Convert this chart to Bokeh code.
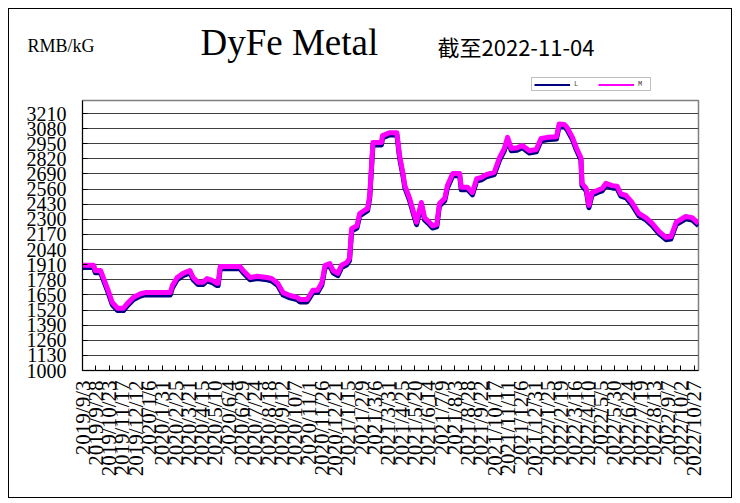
import pandas as pd
from bokeh.plotting import figure
from bokeh.layouts import column
from bokeh.models import FixedTicker, Label, Legend, LegendItem, ColumnDataSource, Range1d
from bokeh.embed import file_html
from bokeh.resources import INLINE

# ---- data ----
dates = [
    "2019-09-03", "2019-09-24", "2019-09-27", "2019-10-07", "2019-10-20", "2019-10-29",
    "2019-11-08", "2019-11-19", "2019-11-26", "2019-12-08", "2019-12-21", "2019-12-30",
    "2020-02-15", "2020-02-19", "2020-02-28", "2020-03-10", "2020-03-23", "2020-03-29",
    "2020-04-07", "2020-04-17", "2020-04-24", "2020-05-04", "2020-05-13", "2020-05-15",
    "2020-05-19", "2020-06-25", "2020-07-01", "2020-07-14", "2020-07-27", "2020-08-15",
    "2020-08-24", "2020-09-04", "2020-09-14", "2020-09-27", "2020-10-10", "2020-10-16",
    "2020-10-29", "2020-11-03", "2020-11-09", "2020-11-18", "2020-11-26", "2020-12-02",
    "2020-12-11", "2020-12-17", "2020-12-26", "2021-01-02", "2021-01-12", "2021-01-17",
    "2021-01-21", "2021-01-31", "2021-02-05", "2021-02-20", "2021-02-24", "2021-03-02",
    "2021-03-18", "2021-03-20", "2021-04-02", "2021-04-16", "2021-04-21", "2021-04-27",
    "2021-05-01", "2021-05-10", "2021-05-19", "2021-05-23", "2021-06-01", "2021-06-07",
    "2021-06-16", "2021-06-22", "2021-06-30", "2021-07-05", "2021-07-15", "2021-07-20",
    "2021-07-30", "2021-08-12", "2021-08-15", "2021-08-27", "2021-09-05", "2021-09-13",
    "2021-09-22", "2021-10-01", "2021-10-16", "2021-10-26", "2021-11-04", "2021-11-10",
    "2021-11-17", "2021-11-28", "2021-12-08", "2021-12-21", "2022-01-03", "2022-01-12",
    "2022-01-24", "2022-02-10", "2022-02-15", "2022-02-25", "2022-03-02", "2022-03-12",
    "2022-03-19", "2022-03-28", "2022-03-30", "2022-04-07", "2022-04-12", "2022-04-18",
    "2022-05-01", "2022-05-07", "2022-05-14", "2022-05-26", "2022-06-04", "2022-06-11",
    "2022-06-21", "2022-07-02", "2022-07-15", "2022-07-28", "2022-08-09", "2022-08-22",
    "2022-09-04", "2022-09-13", "2022-09-23", "2022-10-04", "2022-10-11", "2022-10-23",
    "2022-11-04",
]

m_vals = [
    1905, 1905, 1860, 1860, 1705, 1585,
    1535, 1535, 1575, 1630, 1660, 1670,
    1670, 1730, 1800, 1835, 1860, 1800,
    1760, 1760, 1790, 1775, 1750, 1750,
    1895, 1895, 1860, 1800, 1810, 1800,
    1790, 1750, 1670, 1645, 1630, 1610,
    1610, 1645, 1690, 1690, 1755, 1905,
    1920, 1860, 1835, 1905, 1930, 1965,
    2220, 2245, 2350, 2395, 2505, 2960,
    2960, 3020, 3045, 3045, 2850, 2705,
    2590, 2480, 2335, 2275, 2445, 2315,
    2275, 2245, 2255, 2435, 2480, 2590,
    2695, 2695, 2575, 2575, 2530, 2650,
    2660, 2685, 2705, 2830, 2910, 3005,
    2910, 2915, 2935, 2890, 2900, 2995,
    3005, 3010, 3120, 3115, 3090, 3005,
    2920, 2830, 2610, 2565, 2420, 2530,
    2555, 2565, 2610, 2590, 2585, 2520,
    2505, 2445, 2350, 2315, 2265, 2195,
    2145, 2150, 2275, 2305, 2325, 2315,
    2265,
]

l_vals = [
    1885, 1885, 1840, 1840, 1685, 1565,
    1515, 1515, 1555, 1610, 1640, 1650,
    1650, 1710, 1780, 1815, 1840, 1780,
    1740, 1740, 1770, 1755, 1730, 1730,
    1875, 1875, 1840, 1780, 1790, 1780,
    1770, 1730, 1650, 1625, 1610, 1590,
    1590, 1625, 1670, 1670, 1735, 1885,
    1900, 1840, 1815, 1885, 1910, 1945,
    2200, 2225, 2330, 2375, 2485, 2940,
    2940, 3000, 3025, 3025, 2830, 2685,
    2570, 2460, 2315, 2255, 2425, 2295,
    2255, 2225, 2235, 2415, 2460, 2570,
    2675, 2675, 2555, 2555, 2510, 2630,
    2640, 2665, 2685, 2810, 2890, 2985,
    2890, 2895, 2915, 2870, 2880, 2975,
    2985, 2990, 3100, 3095, 3070, 2985,
    2900, 2810, 2590, 2545, 2400, 2510,
    2535, 2545, 2590, 2570, 2565, 2500,
    2485, 2425, 2330, 2295, 2245, 2175,
    2125, 2130, 2255, 2285, 2305, 2295,
    2245,
]

tick_labels = [
    "2019/9/3", "2019/9/28", "2019/10/23", "2019/11/17", "2019/12/12", "2020/1/6",
    "2020/1/31", "2020/2/25", "2020/3/21", "2020/4/15", "2020/5/10", "2020/6/4",
    "2020/6/29", "2020/7/24", "2020/8/18", "2020/9/12", "2020/10/7", "2020/11/1",
    "2020/11/26", "2020/12/21", "2021/1/15", "2021/2/9", "2021/3/6", "2021/3/31",
    "2021/4/25", "2021/5/20", "2021/6/14", "2021/7/9", "2021/8/3", "2021/8/28",
    "2021/9/22", "2021/10/17", "2021/11/11", "2021/12/6", "2021/12/31", "2022/1/25",
    "2022/2/19", "2022/3/16", "2022/4/10", "2022/5/5", "2022/5/30", "2022/6/24",
    "2022/7/19", "2022/8/13", "2022/9/7", "2022/10/2", "2022/10/27",
]

y_ticks = [1000, 1130, 1260, 1390, 1520, 1650, 1780, 1910, 2040, 2170,
           2300, 2430, 2560, 2690, 2820, 2950, 3080, 3210]

series_names = ["L", "M"]
series_colors = ["#000080", "#FF00FF"]

title_text = "DyFe Metal"
unit_text = "RMB/kG"
date_text = "截至2022-11-04"

# ---- build ----
start = pd.Timestamp("2019-09-03")
xs = [int(d) for d in (pd.to_datetime(dates) - start).days]
tick_pos = [int(d) for d in (pd.to_datetime(tick_labels, format="%Y/%m/%d") - start).days]
end_x = xs[-1]

W = 722
H_HEAD = 90
H_MAIN = 398

# header strip: titles and legend
head = figure(width=W, height=H_HEAD, output_backend="svg", toolbar_location=None,
              x_range=Range1d(0, W), y_range=Range1d(0, H_HEAD),
              x_axis_location=None, y_axis_location=None,
              min_border=0, min_border_left=0, min_border_right=0,
              min_border_top=0, min_border_bottom=0,
              background_fill_color="white", border_fill_color="white")
head.outline_line_color = None
head.xgrid.grid_line_color = None
head.ygrid.grid_line_color = None

head.add_layout(Label(x=18, y=54, text=unit_text,
                      text_font="Liberation Serif", text_font_size="18px",
                      text_baseline="middle", text_color="#000000"))
head.add_layout(Label(x=191, y=57, text=title_text,
                      text_font="Liberation Serif", text_font_size="37px",
                      text_baseline="middle", text_color="#000000"))
head.add_layout(Label(x=428, y=54, text=date_text,
                      text_font="Noto Sans CJK SC", text_font_size="22px",
                      text_baseline="middle", text_color="#000000"))

# legend sample lines (one off-canvas point each so the swatches have a colour)
leg_l = ColumnDataSource(dict(x=[-50], y=[-50]))
leg_m = ColumnDataSource(dict(x=[-50], y=[-50]))
rl = head.line("x", "y", source=leg_l, line_color=series_colors[0], line_width=2)
rm = head.line("x", "y", source=leg_m, line_color=series_colors[1], line_width=2)
legend = Legend(items=[LegendItem(label=series_names[0], renderers=[rl]),
                       LegendItem(label=series_names[1], renderers=[rm])],
                orientation="horizontal", location=(522, 8),
                glyph_width=36, glyph_height=5, label_height=5, label_width=10,
                label_standoff=4,
                label_text_font_size="7px", label_text_font="Liberation Mono",
                label_text_color="#404040",
                padding=2, spacing=14, margin=0,
                border_line_color="#808080", border_line_width=1.5,
                background_fill_color="white", background_fill_alpha=1.0)
head.add_layout(legend, "center")

# main chart
src = ColumnDataSource(dict(x=xs, L=l_vals, M=m_vals))

p = figure(width=W, height=H_MAIN, output_backend="svg", toolbar_location=None,
           x_range=Range1d(0, end_x), y_range=Range1d(1000, 3322),
           min_border_left=73, min_border_right=33, min_border_top=1, min_border_bottom=127,
           background_fill_color="white", border_fill_color="white")

p.outline_line_color = "#808080"
p.outline_line_width = 1.5

p.line("x", "L", source=src, line_color=series_colors[0], line_width=5, line_join="round")
p.line("x", "M", source=src, line_color=series_colors[1], line_width=5, line_join="round")

xa = p.xaxis[0]
xa.ticker = FixedTicker(ticks=tick_pos)
xa.major_label_overrides = {tp: lab for tp, lab in zip(tick_pos, tick_labels)}
xa.major_label_orientation = 3.14159265 / 2
xa.major_label_text_font = "Liberation Serif"
xa.major_label_text_font_size = "21px"
xa.major_label_text_color = "#000000"
xa.major_label_standoff = 10
xa.major_tick_in = 5
xa.major_tick_out = 0
xa.minor_tick_line_color = None
xa.axis_line_color = "#000000"
xa.major_tick_line_color = "#000000"

ya = p.yaxis[0]
ya.ticker = FixedTicker(ticks=y_ticks)
ya.major_label_text_font = "Liberation Serif"
ya.major_label_text_font_size = "20px"
ya.major_label_text_color = "#000000"
ya.major_label_standoff = 16
ya.major_tick_in = 5
ya.major_tick_out = 0
ya.minor_tick_line_color = None
ya.axis_line_color = "#000000"
ya.major_tick_line_color = "#000000"

p.xgrid.grid_line_color = None
p.ygrid.ticker = FixedTicker(ticks=y_ticks)
p.ygrid.grid_line_color = "#404040"
p.ygrid.grid_line_width = 1

# keep the header's frame independent of the chart's frame
for fig in (head, p):
    if "frame_align" in fig.properties():
        fig.frame_align = False

layout = column(head, p, spacing=0,
                styles={"border": "1px solid #000000", "margin-left": "8px", "margin-top": "8px"})

open("out.html", "w").write(file_html(layout, INLINE))
